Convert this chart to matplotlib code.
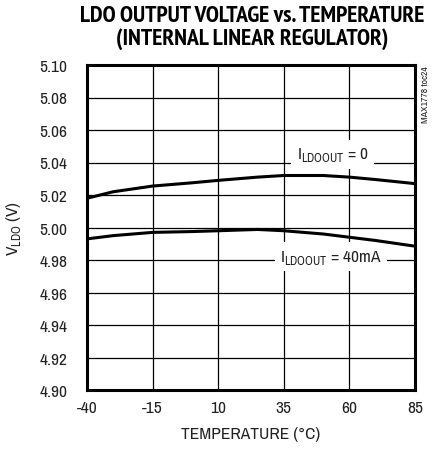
import numpy as np
import matplotlib.pyplot as plt

# temperature sweep (degC) and LDO output voltage (V)
temp = [-40, -30, -15, 0, 10, 25, 35, 50, 60, 70, 85]
v_no_load = [5.018, 5.022, 5.0255, 5.0275, 5.029, 5.031, 5.032, 5.032, 5.031, 5.0295, 5.027]
v_40ma = [4.993, 4.995, 4.997, 4.9975, 4.998, 4.9988, 4.998, 4.996, 4.994, 4.992, 4.9885]

x_ticks = [-40, -15, 10, 35, 60, 85]
y_ticks = np.round(np.arange(4.90, 5.1001, 0.02), 2)

plt.rcParams['font.family'] = ['Archivo Narrow', 'PT Sans Narrow', 'DejaVu Sans']
plt.rcParams['axes.unicode_minus'] = False
plt.rcParams['mathtext.fontset'] = 'custom'
plt.rcParams['mathtext.rm'] = 'Archivo Narrow'

fig = plt.figure(figsize=(4.41, 4.56), dpi=100)
ax = fig.add_axes([87 / 441, 1 - 391 / 456, 328 / 441, 325 / 456])

ax.plot(temp, v_no_load, color='black', lw=2.2, zorder=4)
ax.plot(temp, v_40ma, color='black', lw=2.2, zorder=4)

ax.set_xlim(-40, 85)
ax.set_ylim(4.90, 5.10)
ax.set_xticks(x_ticks)
ax.set_yticks(y_ticks)
ax.set_yticklabels([f'{v:.2f}' for v in y_ticks])
ax.tick_params(length=0, labelsize=12.5, labelcolor='#222222')
ax.tick_params(axis='y', pad=14)
ax.tick_params(axis='x', pad=7)
ax.grid(True, color='black', lw=0.9, zorder=1)
for s in ax.spines.values():
    s.set_linewidth(2.2)

ax.set_xlabel('TEMPERATURE (°C)', fontsize=12.5, labelpad=8, color='#222222')
ax.set_ylabel(r'V$_{\mathregular{LDO}}$ (V)', fontsize=12.5, labelpad=12, color='#222222')

box = dict(facecolor='white', edgecolor='none', pad=4)
ax.text(53.5, 5.045, r'I$_{\mathregular{LDOOUT}}$ = 0', fontsize=12.5, ha='center',
        va='center', bbox=box, zorder=3, color='#222222')
ax.text(53, 4.982, r'I$_{\mathregular{LDOOUT}}$ = 40mA', fontsize=12.5, ha='center',
        va='center', bbox=box, zorder=3, color='#222222')

fig.text(426 / 441, 1 - 66 / 456, 'MAX1778 toc24', fontsize=7, rotation=90,
         ha='center', va='top', color='#222222')

fig.text(252 / 441, 1 - 6 / 456, 'LDO OUTPUT VOLTAGE vs. TEMPERATURE\n(INTERNAL LINEAR REGULATOR)',
         fontsize=17, fontweight='bold', family='PT Sans Narrow', ha='center', va='top',
         linespacing=1.05)

fig.savefig('out.png', dpi=100)
